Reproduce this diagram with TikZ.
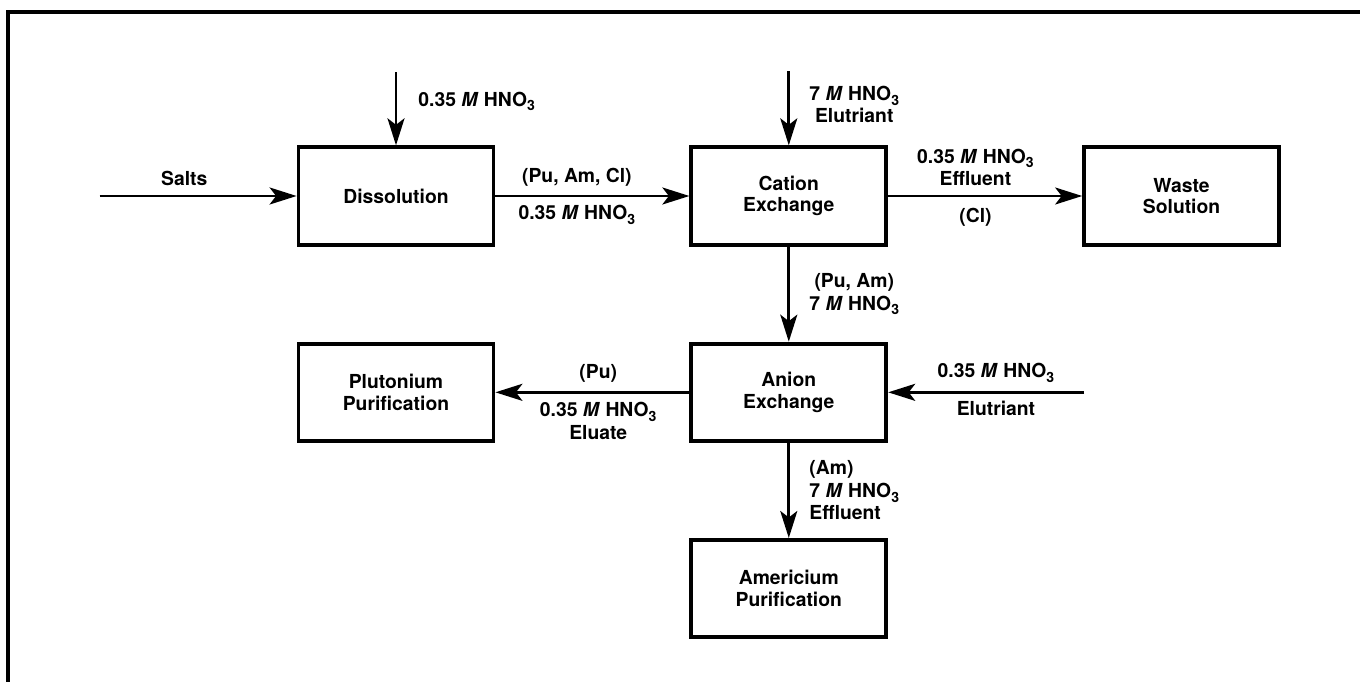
\documentclass[tikz,border=0pt]{standalone}
\usepackage{fontspec}
\setmainfont{TeX Gyre Heros}
\usetikzlibrary{positioning,arrows.meta}
\newcommand{\hno}{HNO\raisebox{-0.45ex}{\footnotesize 3}}

\begin{document}
\begin{tikzpicture}[
  x=0.02cm, y=-0.02cm,
  unit/.style={rectangle, draw, line width=2.2pt, align=center, minimum width=3.9cm, minimum height=1.95cm, font=\fontsize{11}{12.3}\selectfont\bfseries},
  flow/.style={-{Stealth[length=5.4mm, width=3.4mm, inset=1.3mm]}, line width=1.5pt},
  note/.style={font=\fontsize{11}{12.8}\selectfont\bfseries, align=center, inner sep=2pt},
]
\useasboundingbox (0,0) rectangle (1360,682);

% === Frame ===
\draw[line width=2pt] (8,682) -- (8,12) -- (1360,12);

% === Process units ===
\node[unit] (dis) at (396,196) {Dissolution};
\node[unit, right=3.88cm of dis] (cat) {Cation\\Exchange};
\node[unit, right=3.88cm of cat] (waste) {Waste\\Solution};
\node[unit, below=1.9cm of cat] (anion) {Anion\\Exchange};
\node[unit, left=3.88cm of anion] (pu) {Plutonium\\Purification};
\node[unit, below=1.9cm of anion] (am) {Americium\\Purification};

% === Feed points ===
\coordinate[left=3.94cm of dis] (salts);
\coordinate[above=1.46cm of dis] (acid);
\coordinate[above=1.48cm of cat] (elu);
\coordinate[right=3.92cm of anion] (strip);

% === Streams ===
\draw[flow] (salts) -- (dis) node[note, pos=0.43, above=3pt] {Salts};
\draw[flow] (acid) -- (dis) node[note, pos=0.4, right=10pt] {0.35 \textit{M} \hno};
\draw[flow] (dis) -- (cat) node[note, pos=0.42, above=3pt] {(Pu, Am, Cl)}
  node[note, pos=0.42, below=2.5pt] {0.35 \textit{M} \hno};
\draw[flow] (elu) -- (cat) node[note, pos=0.45, right=9pt] {7 \textit{M} \hno\\Elutriant};
\draw[flow] (cat) -- (waste) node[note, pos=0.45, above=3pt] {0.35 \textit{M} \hno\\Effluent}
  node[note, pos=0.45, below=4pt] {(Cl)};
\draw[flow] (cat) -- (anion) node[note, midway, right=9pt] {(Pu, Am)\\7 \textit{M} \hno};
\draw[flow] (strip) -- (anion) node[note, pos=0.45, above=3pt] {0.35 \textit{M} \hno}
  node[note, pos=0.45, below=2pt] {Elutriant};
\draw[flow] (anion) -- (pu) node[note, pos=0.47, above=3pt] {(Pu)}
  node[note, pos=0.47, below=3pt] {0.35 \textit{M} \hno\\Eluate};
\draw[flow] (anion) -- (am) node[note, align=left, midway, right=9pt] {(Am)\\7 \textit{M} \hno\\Effluent};

\end{tikzpicture}
\end{document}
